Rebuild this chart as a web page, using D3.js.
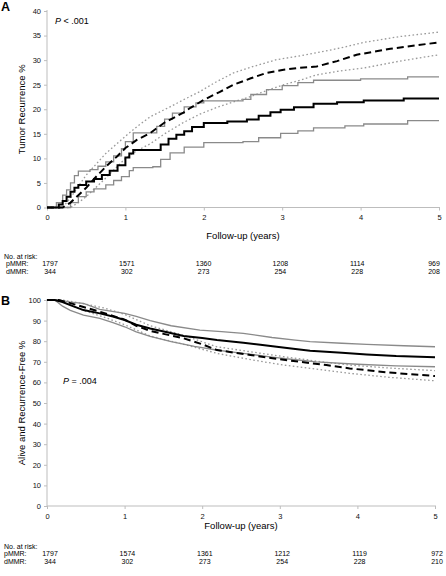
<!DOCTYPE html>
<html><head><meta charset="utf-8">
<script src="https://cdn.jsdelivr.net/npm/d3@7"></script>
<style>
html,body{margin:0;padding:0;background:#fff;}
svg{display:block;font-family:"Liberation Sans",Arial,sans-serif;}
</style></head><body>
<svg id="chart" width="446" height="576"></svg>
<script>
// ---------------- DATA ----------------
const yearTicks = [0, 1, 2, 3, 4, 5];
const ticksA = [0, 5, 10, 15, 20, 25, 30, 35, 40];
const ticksB = [0, 10, 20, 30, 40, 50, 60, 70, 80, 90, 100];

// Panel A: tumor recurrence % ([years, %])
const A_pmmrEst = [[0,0],[0.1,0],[0.15,0.6],[0.2,1.3],[0.25,2.2],[0.3,3.2],[0.35,4],[0.4,4.6],[0.5,5.3],[0.6,5.8],[0.7,6.6],[0.8,7.5],[0.9,8.6],[1.0,10.2],[1.05,11],[1.1,11.7],[1.35,11.7],[1.45,12.8],[1.55,14],[1.65,14.8],[1.75,15.5],[1.85,16.4],[2.0,17.2],[2.3,17.5],[2.55,17.9],[2.7,18.7],[2.85,19.4],[2.98,19.9],[3.15,20.4],[3.4,21.1],[3.7,21.4],[4.04,21.8],[4.55,22.2],[5,22.2]];
const A_pmmrUpper = [[0,0],[0.08,0],[0.12,1],[0.2,2.5],[0.25,3.6],[0.3,5],[0.35,6.5],[0.4,7.4],[0.55,7.7],[0.65,8.4],[0.75,9.3],[0.85,10.5],[0.95,12],[1.0,13.4],[1.1,15.2],[1.3,15.2],[1.4,16.5],[1.5,18],[1.6,19.2],[1.75,20.5],[1.9,21.3],[2.0,21.7],[2.5,22],[2.6,23],[2.8,24],[3.0,24.8],[3.2,25.4],[3.4,25.9],[4.0,26.2],[4.6,26.6],[5,26.6]];
const A_pmmrLower = [[0,0],[0.2,0],[0.3,1],[0.4,2.2],[0.5,3.2],[0.6,3.8],[0.75,4.6],[0.85,5.5],[0.95,6.3],[1.05,7.5],[1.1,8.1],[1.35,8.3],[1.45,9.8],[1.57,11.1],[1.75,12.3],[2.0,13.2],[2.5,13.4],[2.7,14.2],[2.98,15.1],[3.2,15.6],[3.4,16.2],[3.8,16.6],[4.04,17],[4.6,17.7],[5,17.7]];
const A_dmmrEst = [[0,0],[0.2,0],[0.3,1],[0.4,2.5],[0.5,4],[0.6,5.8],[0.75,8.3],[0.9,10.5],[1.0,12.1],[1.15,13.8],[1.32,15.2],[1.5,17.3],[1.74,19.3],[1.83,20.3],[2.0,21.9],[2.2,23.5],[2.38,25],[2.6,26.3],[2.8,27.4],[3.0,28],[3.2,28.4],[3.44,28.7],[3.7,29.8],[3.95,31.1],[4.2,31.8],[4.38,32.3],[4.7,33],[5,33.6]];
const A_dmmrUpper = [[0,0],[0.2,0],[0.3,2],[0.4,4.3],[0.5,6.6],[0.75,11],[1.0,14.5],[1.15,16.5],[1.32,18.5],[1.57,20.5],[1.75,22],[1.95,23.6],[2.15,25.5],[2.38,27.4],[2.65,28.8],[2.93,30.1],[3.2,30.8],[3.44,31.5],[3.75,32.5],[4.04,33.6],[4.5,34.8],[5,35.7]];
const A_dmmrLower = [[0,0],[0.3,0],[0.4,1],[0.5,2.2],[0.75,6],[1.0,10],[1.15,11.6],[1.32,13],[1.5,15],[1.74,17.3],[1.95,19],[2.17,20.4],[2.4,21.6],[2.6,22.6],[2.8,23.8],[3.02,25],[3.25,26],[3.44,27],[3.7,27.7],[4.04,28.4],[4.5,29.8],[5,31.1]];

// Panel B: alive and recurrence-free %
const B_pmmrEst = [[0,100],[0.1,100],[0.2,99],[0.3,97.5],[0.47,95.1],[0.68,93.5],[0.85,92],[1.0,90.3],[1.15,88],[1.33,86.2],[1.55,84.3],[1.76,82.5],[2.0,81.5],[2.19,80.6],[2.53,79.3],[2.75,78.3],[2.96,77.3],[3.2,76.2],[3.39,75.4],[3.8,74.4],[4.12,73.6],[4.5,72.8],[5,72.2]];
const B_pmmrUpper = [[0,100],[0.15,100],[0.3,99],[0.47,98.4],[0.68,95.5],[1.0,93.5],[1.15,92],[1.33,90],[1.6,87.5],[1.97,85.4],[2.25,84.6],[2.53,83.8],[2.9,81.8],[3.2,80.5],[3.39,79.8],[3.8,79],[4.12,78.5],[4.6,77.8],[5,77.3]];
const B_pmmrLower = [[0,100],[0.1,100],[0.2,97],[0.3,95],[0.47,92.7],[0.68,91.1],[0.85,89],[1.0,87],[1.15,84.5],[1.33,82.3],[1.6,79.8],[1.9,77.5],[2.2,75.6],[2.53,74.1],[2.9,72.3],[3.2,71],[3.47,70],[4.0,68.8],[4.5,68],[5,67.6]];
const B_dmmrEst = [[0,100],[0.15,100],[0.3,98.5],[0.47,96.6],[0.68,94.3],[1.0,90.5],[1.15,87.5],[1.33,85],[1.76,81.4],[2.0,78.5],[2.19,75.7],[2.62,73.3],[2.95,71.5],[3.26,70],[3.6,68.4],[3.9,66.8],[4.4,64.8],[5,63.1]];
const B_dmmrUpper = [[0,100],[0.2,100],[0.35,99],[0.5,98],[0.75,96],[1.0,93],[1.33,87.5],[1.7,83.5],[2.19,77.3],[2.6,75],[3.05,72.5],[3.5,70.2],[3.9,68.4],[4.4,67],[5,65.7]];
const B_dmmrLower = [[0,100],[0.15,100],[0.3,97.5],[0.5,94.5],[0.75,91.5],[1.0,88],[1.33,82.5],[1.76,78.5],[2.19,74.1],[2.6,71.2],[3.05,68.4],[3.5,66.3],[3.9,64.4],[4.4,62.5],[5,60.8]];

// Number at risk
const riskLabels = ["pMMR:", "dMMR:"];
const A_riskP = [1797, 1571, 1360, 1208, 1114, 969];
const A_riskD = [344, 302, 273, 254, 228, 208];
const B_riskP = [1797, 1574, 1361, 1212, 1119, 972];
const B_riskD = [344, 302, 273, 254, 228, 210];

// ---------------- DRAW ----------------
const svg = d3.select("#chart");
const AXIS_COLOR = "#bdbdbd";

function panel(cfg) {
  const g = svg.append("g");
  const x = d3.scaleLinear().domain([0, 5]).range([cfg.x0, cfg.x1]);
  const y = d3.scaleLinear().domain([0, cfg.ymax]).range([cfg.yb, cfg.yt]);

  const ya = g.append("g").attr("transform", `translate(${cfg.x0},0)`)
    .call(d3.axisLeft(y).tickValues(cfg.yticks).tickSize(3).tickPadding(3).tickFormat(d3.format("d")));
  ya.select(".domain").attr("stroke", AXIS_COLOR).attr("d", `M0,${cfg.yt - 1}V${cfg.yb}`);
  ya.selectAll(".tick line").attr("stroke", AXIS_COLOR);
  ya.selectAll(".tick text").attr("font-size", 7.5).attr("fill", "#111").attr("font-family", "Liberation Sans, Arial, sans-serif");

  const xa = g.append("g").attr("transform", `translate(0,${cfg.yb})`)
    .call(d3.axisBottom(x).tickValues(yearTicks).tickSize(3).tickPadding(cfg.xpad).tickFormat(d3.format("d")));
  xa.select(".domain").attr("stroke", AXIS_COLOR).attr("d", `M${cfg.x0},0H${cfg.x1 + 1}`);
  xa.selectAll(".tick line").attr("stroke", AXIS_COLOR);
  xa.selectAll(".tick text").attr("font-size", 7.5).attr("fill", "#111").attr("font-family", "Liberation Sans, Arial, sans-serif");

  const step = d3.line().x(d => x(d[0])).y(d => y(d[1])).curve(d3.curveStepAfter);
  const smooth = d3.line().x(d => x(d[0])).y(d => y(d[1])).curve(d3.curveLinear);
  const solidGen = cfg.stepSolid ? step : smooth;

  const series = [
    {d: cfg.dLow, gen: smooth, stroke: "#9a9a9a", w: 1.3, dash: "1.6,2.4"},
    {d: cfg.dUp, gen: smooth, stroke: "#9a9a9a", w: 1.3, dash: "1.6,2.4"},
    {d: cfg.pLow, gen: solidGen, stroke: "#8a8a8a", w: 1.3, dash: null},
    {d: cfg.pUp, gen: solidGen, stroke: "#8a8a8a", w: 1.3, dash: null},
    {d: cfg.pEst, gen: solidGen, stroke: "#000", w: 2, dash: null},
    {d: cfg.dEst, gen: smooth, stroke: "#000", w: 2, dash: "7,4"}
  ];
  g.selectAll("path.curve").data(series).enter().append("path")
    .attr("class", "curve")
    .attr("d", s => s.gen(s.d))
    .attr("fill", "none")
    .attr("stroke", s => s.stroke)
    .attr("stroke-width", s => s.w)
    .attr("stroke-dasharray", s => s.dash);

  g.append("text").attr("x", 1).attr("y", cfg.letterY).attr("font-size", 12.5).attr("font-weight", "bold").text(cfg.letter);

  g.append("text").attr("transform", `translate(25,${(cfg.yt + cfg.yb) / 2}) rotate(-90)`)
    .attr("text-anchor", "middle").attr("font-size", 9.5).text(cfg.ytitle);

  g.append("text").attr("x", (cfg.x0 + cfg.x1) / 2).attr("y", cfg.xtitleY)
    .attr("text-anchor", "middle").attr("font-size", 9.5).text("Follow-up (years)");

  const pt = g.append("text").attr("x", cfg.pX).attr("y", cfg.pY).attr("font-size", 9);
  pt.append("tspan").attr("font-style", "italic").text("P");
  pt.append("tspan").text(cfg.pText);

  const rx = d3.scaleLinear().domain([0, 5]).range(cfg.riskRange);
  g.append("text").attr("x", 4).attr("y", cfg.riskY).attr("font-size", 7).text("No. at risk:");
  [cfg.riskP, cfg.riskD].forEach((row, i) => {
    const yy = cfg.riskY + (i + 1) * cfg.riskGap;
    g.append("text").attr("x", cfg.riskLabelX).attr("y", yy).attr("font-size", 7).text(riskLabels[i]);
    g.selectAll(null).data(row).enter().append("text")
      .attr("x", (d, j) => rx(yearTicks[j])).attr("y", yy)
      .attr("text-anchor", "middle").attr("font-size", 7).text(d => d);
  });
}

panel({
  letter: "A", letterY: 11, stepSolid: true,
  x0: 47, x1: 439, yt: 11, yb: 207.5, ymax: 40, yticks: ticksA, xpad: 4,
  ytitle: "Tumor Recurrence %", xtitleY: 238.5,
  pX: 55, pY: 24, pText: " < .001",
  pEst: A_pmmrEst, pUp: A_pmmrUpper, pLow: A_pmmrLower,
  dEst: A_dmmrEst, dUp: A_dmmrUpper, dLow: A_dmmrLower,
  riskY: 258.5, riskGap: 7.8, riskLabelX: 6, riskRange: [50, 434],
  riskP: A_riskP, riskD: A_riskD
});

panel({
  letter: "B", letterY: 305, stepSolid: false,
  x0: 47, x1: 435, yt: 300, yb: 506, ymax: 100, yticks: ticksB, xpad: 5,
  ytitle: "Alive and Recurrence-Free %", xtitleY: 529,
  pX: 63, pY: 384, pText: " = .004",
  pEst: B_pmmrEst, pUp: B_pmmrUpper, pLow: B_pmmrLower,
  dEst: B_dmmrEst, dUp: B_dmmrUpper, dLow: B_dmmrLower,
  riskY: 548.5, riskGap: 7.6, riskLabelX: 4, riskRange: [50, 437],
  riskP: B_riskP, riskD: B_riskD
});
</script>
</body></html>
